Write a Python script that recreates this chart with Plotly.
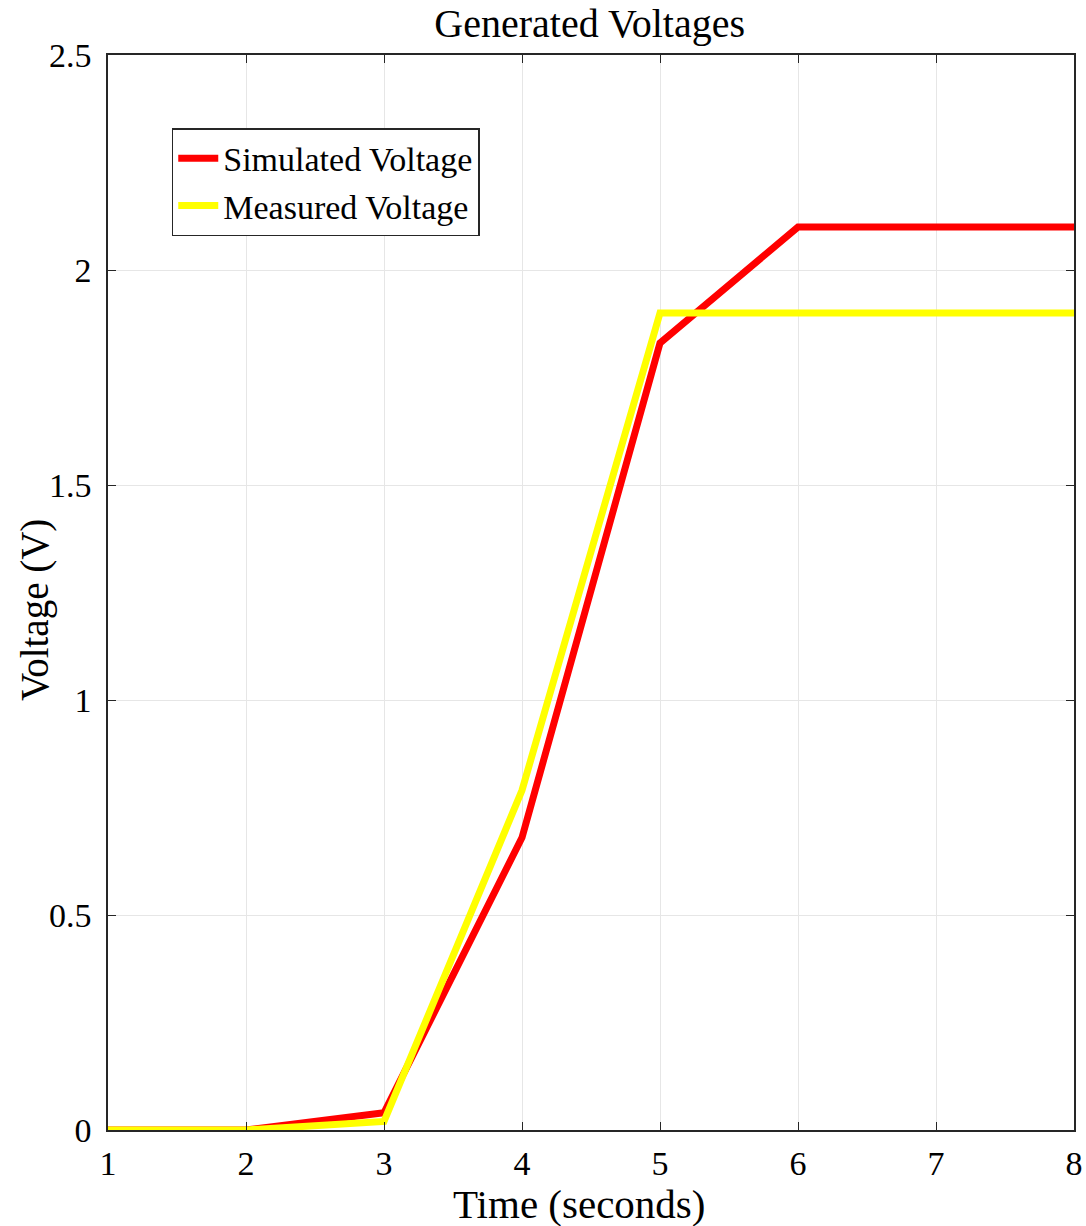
import plotly.graph_objects as go

time_s = [1, 2, 3, 4, 5, 6, 7, 8]
simulated_v = [0, 0, 0.04, 0.68, 1.83, 2.1, 2.1, 2.1]
measured_v = [0, 0, 0.02, 0.79, 1.90, 1.90, 1.90, 1.90]
x_ticks = [1, 2, 3, 4, 5, 6, 7, 8]
y_ticks = [0, 0.5, 1, 1.5, 2, 2.5]
y_tick_text = ["0", "0.5", "1", "1.5", "2", "2.5"]

FONT = "Liberation Serif, Times New Roman, serif"

fig = go.Figure()
fig.add_trace(go.Scatter(x=time_s, y=simulated_v, mode="lines", name="Simulated Voltage",
                         line=dict(color="#ff0000", width=7)))
fig.add_trace(go.Scatter(x=time_s, y=measured_v, mode="lines", name="Measured Voltage",
                         line=dict(color="#ffff00", width=7)))

axis_common = dict(showline=True, linecolor="#262626", linewidth=1.5, mirror="ticks",
                   ticks="inside", ticklen=8, tickcolor="#262626",
                   showgrid=True, gridcolor="#e6e6e6", gridwidth=1, zeroline=False,
                   automargin=False,
                   tickfont=dict(family=FONT, size=34, color="#000000"))

fig.update_layout(
    width=1086, height=1226,
    paper_bgcolor="white", plot_bgcolor="white",
    margin=dict(l=108, r=12, t=55, b=96),
    title=dict(text="Generated Voltages", x=0.543, xanchor="center", y=0.981, yanchor="middle",
               font=dict(family=FONT, size=40, color="#000000")),
    xaxis=dict(range=[1, 8], tickvals=x_ticks, ticklabelstandoff=2, **axis_common),
    yaxis=dict(range=[0, 2.5], tickvals=y_ticks, ticktext=y_tick_text,
               ticklabelstandoff=8, **axis_common),
    legend=dict(x=0.066, y=0.932, xanchor="left", yanchor="top",
                bgcolor="white", bordercolor="#262626", borderwidth=1.5,
                font=dict(family=FONT, size=34, color="#000000"),
                tracegroupgap=0, itemwidth=40),
    showlegend=True,
    annotations=[
        dict(text="Time (seconds)", xref="paper", yref="paper", x=0.4876, y=-0.0685,
             xanchor="center", yanchor="middle", showarrow=False,
             font=dict(family=FONT, size=41, color="#000000")),
        dict(text="Voltage (V)", xref="paper", yref="paper", x=-0.0756, y=0.4837,
             xanchor="center", yanchor="middle", showarrow=False, textangle=-90,
             font=dict(family=FONT, size=39, color="#000000")),
    ],
)

fig.write_html("out.html", config={"displayModeBar": False},
               post_script="document.body.style.margin='0';")
